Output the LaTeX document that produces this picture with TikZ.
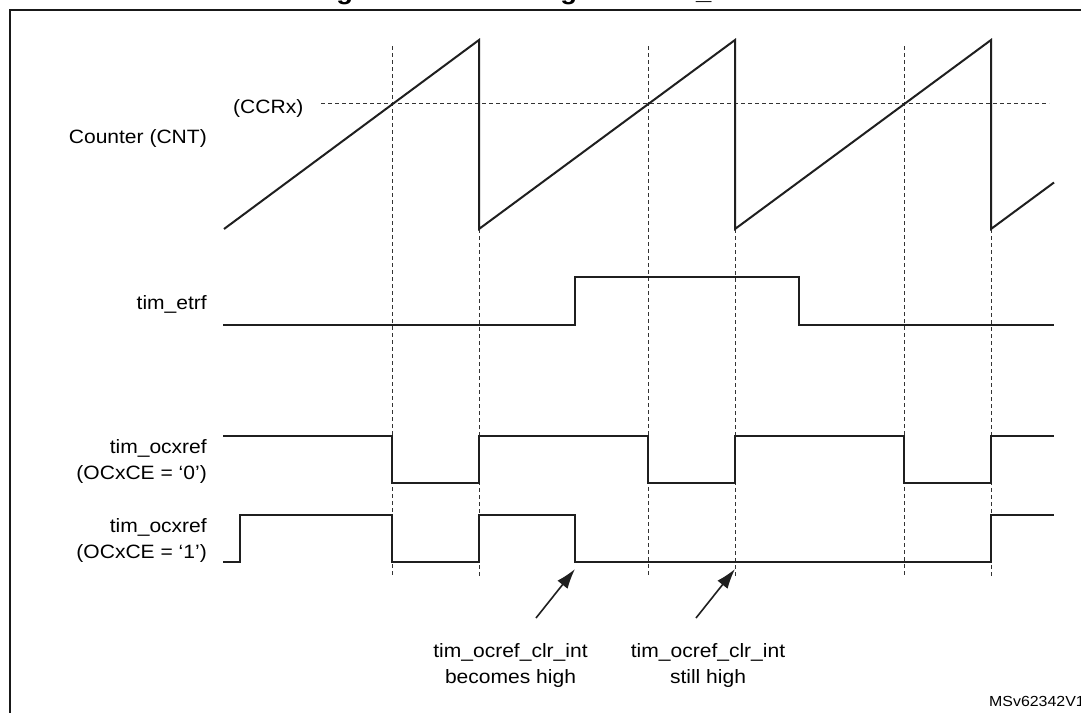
\documentclass[tikz,border=0pt]{standalone}
\usepackage{fontspec}
\setmainfont{Liberation Sans}[FakeStretch=1.09]
\usetikzlibrary{arrows.meta}
\begin{document}
\begin{tikzpicture}[x=1pt,y=-1pt,
  sig/.style={line width=2pt,color=black!88,line join=miter},
  guide/.style={line width=0.8pt,color=black!80,dash pattern=on 4pt off 3pt},
  lbl/.style={inner sep=0pt,font=\fontsize{19.3}{25.8}\selectfont,text=black},
  lblr/.style={lbl,align=right,anchor=base east},
  lblc/.style={lbl,align=center,anchor=base},
  pointer/.style={line width=1.6pt,color=black!88,-{Latex[length=20pt,width=13pt]}},
  frame/.style={line width=2pt,color=black!90},
  ttl/.style={inner sep=0pt,anchor=base,font=\bfseries\fontsize{25.2}{28}\selectfont}]
\useasboundingbox (0,0) rectangle (1081,712);
\clip (0,0) rectangle (1081,712);
\fill[white] (0,0) rectangle (1081,712);

% title (cut off at the top)
\node[ttl] (title) at (553,-1) {Figure 326. Clearing TIMx tim\_ocxref};

% frame
\draw[frame] (10,730) -- (10,10) -- (1100,10);

% guides
\draw[guide] (321,103) -- (1049,103);
\foreach \x in {392,648,904} \draw[guide] (\x,46) -- (\x,577);
\foreach \x in {479,735,991} \draw[guide] (\x,229) -- (\x,577);

% counter
\draw[sig] (224,229) -- (479,40) -- (479,229) -- (735,40) -- (735,229) -- (991,40) -- (991,229) -- (1054,182.5);

% tim_etrf
\draw[sig] (223,325) -- (575,325) -- (575,277) -- (799,277) -- (799,325) -- (1054,325);

% tim_ocxref (OCxCE = 0)
\draw[sig] (223,436) -- (392,436) -- (392,483) -- (479,483) -- (479,436) -- (648,436) -- (648,483)
  -- (735,483) -- (735,436) -- (904,436) -- (904,483) -- (991,483) -- (991,436) -- (1054,436);

% tim_ocxref (OCxCE = 1)
\draw[sig] (223,562) -- (240,562) -- (240,515) -- (392,515) -- (392,562) -- (479,562) -- (479,515)
  -- (575,515) -- (575,562) -- (991,562) -- (991,515) -- (1054,515);

% labels
\node[lbl,anchor=base west] (ccr) at (233,113) {(CCRx)};
\node[lblr] (cnt) at (207,143) {Counter (CNT)};
\node[lblr] (etrf) at (207,309) {tim\_etrf};
\node[lblr] (oc0) at (207,479) {tim\_ocxref\\(OCxCE = `0')};
\node[lblr] (oc1) at (207,558) {tim\_ocxref\\(OCxCE = `1')};
\node[lblc] (n1) at (510.5,683) {tim\_ocref\_clr\_int\\becomes high};
\node[lblc] (n2) at (708,683) {tim\_ocref\_clr\_int\\still high};
\node[inner sep=0pt,anchor=base west,font=\fontsize{14.6}{16}\selectfont] (ms) at (989,706) {MSv62342V1};

% pointers
\coordinate (a1s) at (536,618);
\coordinate (a1e) at (575,569);
\coordinate (a2s) at (696,618);
\coordinate (a2e) at (735,569);
\draw[pointer] (a1s) -- (a1e);
\draw[pointer] (a2s) -- (a2e);
\end{tikzpicture}
\end{document}
